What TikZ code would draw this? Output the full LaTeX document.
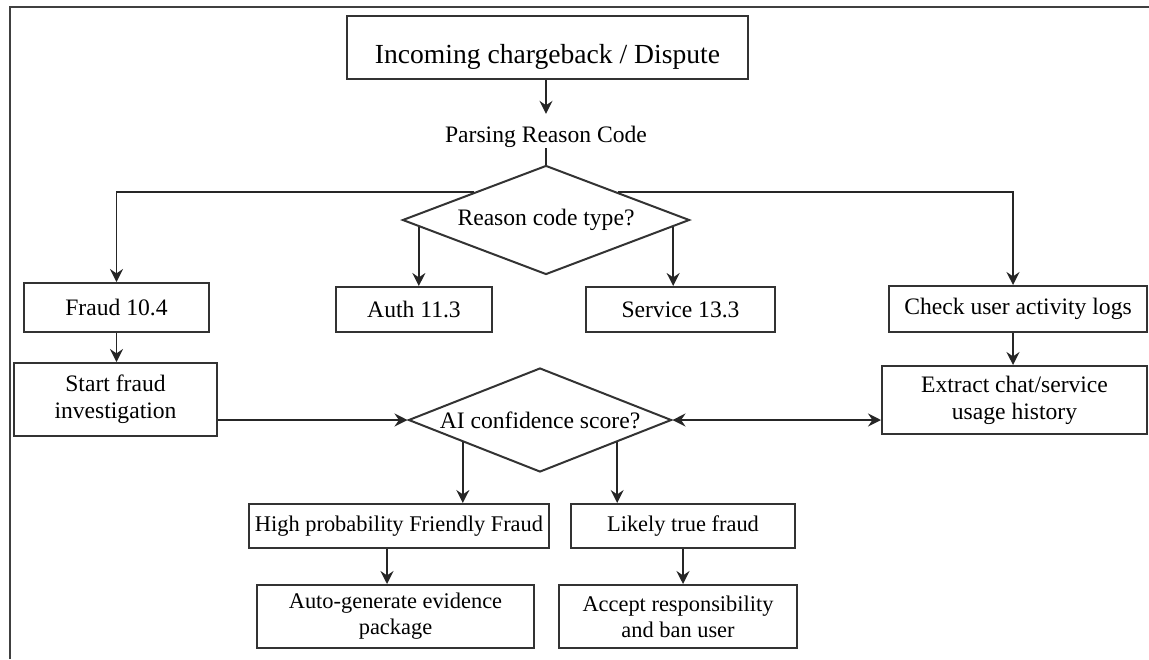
\documentclass[tikz,border=0pt]{standalone}
\usepackage{fontspec}
\setmainfont{Liberation Serif}
\usetikzlibrary{arrows.meta, shapes.geometric}
\newcommand{\headsize}{\fontsize{13.8}{16}\selectfont}
\newcommand{\stepsize}{\fontsize{11.8}{13.5}\selectfont}
\newcommand{\outcomesize}{\fontsize{11.2}{13}\selectfont}
\tikzset{
	flowbox/.style={
		draw=black!80, line width=1pt, rectangle, align=center,
		inner sep=2pt, font=\stepsize
	},
	decision/.style={
		draw=black!80, line width=1pt, diamond, aspect=2.6,
		inner sep=0pt, font=\stepsize
	},
	elbow/.style={
		to path={-| (\tikztotarget)}
	},
	links/.style={
		every edge/.style={draw, ->, line width=0.9pt, black!85}
	},
	frameline/.style={draw=black!75, line width=1.1pt}
}

\begin{document}
\begin{tikzpicture}[x=0.5pt, y=-0.5pt, >={Stealth[length=6.5pt,width=6.5pt,inset=2.2pt]}]
	\useasboundingbox (0,0) rectangle (1149,659);
	\draw[frameline] (10,659) -- (10,7) -- (1149,7);

	% intake
	\node[flowbox, font=\headsize, minimum width=200.5pt, minimum height=31.5pt, text height=15.5pt, text depth=0pt] (incoming) at (547.5,47.5) {Incoming chargeback / Dispute};
	\node[inner sep=0pt, font=\stepsize] (parse) at (546,137) {Parsing Reason Code};
	\node[decision, minimum width=143.5pt, minimum height=54.5pt] (reason) at (546,220) {Reason code type?};

	% reason codes
	\node[flowbox, minimum width=92.5pt, minimum height=24.5pt] (fraud) at (116.5,307.5) {Fraud 10.4};
	\node[flowbox, minimum width=78pt, minimum height=22.5pt] (auth) at (414,309.5) {Auth 11.3};
	\node[flowbox, minimum width=94.5pt, minimum height=22.5pt] (service) at (680.5,309.5) {Service 13.3};
	\node[flowbox, minimum width=129pt, minimum height=23pt] (check) at (1018,309) {Check user activity logs};
	\coordinate (checkin) at ([xshift=-2.5pt]check.north);

	% investigation
	\node[flowbox, minimum width=101.5pt, minimum height=36.5pt] (start) at (115.5,399.5) {Start fraud\\investigation};
	\node[decision, minimum width=131.5pt, minimum height=52pt] (ai) at (540,420) {AI confidence score?};
	\node[flowbox, minimum width=132.5pt, minimum height=34pt] (extract) at (1014.5,400) {Extract chat/service\\usage history};

	% outcomes
	\node[flowbox, font=\outcomesize, minimum width=150pt, minimum height=22pt] (friendly) at (399,526) {High probability Friendly Fraud};
	\node[flowbox, font=\outcomesize, minimum width=112pt, minimum height=22pt] (likely) at (683,526) {Likely true fraud};
	\node[flowbox, font=\outcomesize, minimum width=138.5pt, minimum height=31.5pt] (evidence) at (395.5,616.5) {Auto-generate evidence\\package};
	\node[flowbox, font=\outcomesize, minimum width=119pt, minimum height=31.5pt] (accept) at (678,616.5) {Accept responsibility\\and ban user};

	\path[links]
	(incoming.south -| parse) edge[shorten >=6pt] (parse)
	(parse) edge[-] (reason)
	(reason.north west) edge[elbow] (fraud)
	(reason.north east) edge[elbow] (checkin)
	(reason.183) edge (reason.183 |- auth.north)
	(reason.357) edge (reason.357 |- service.north)
	(fraud.south) edge (fraud.south |- start.north)
	(checkin |- check.south) edge (checkin |- extract.north)
	(start.east |- ai) edge (ai.west)
	(ai.east) edge[<->] (ai.east -| extract.west)
	(ai.196) edge (ai.196 |- friendly.north)
	(ai.344) edge (ai.344 |- likely.north)
	([xshift=-6pt]friendly.south) edge ([xshift=-6pt]friendly.south |- evidence.north)
	(likely.south) edge (likely.south |- accept.north)
	;
\end{tikzpicture}
\end{document}
